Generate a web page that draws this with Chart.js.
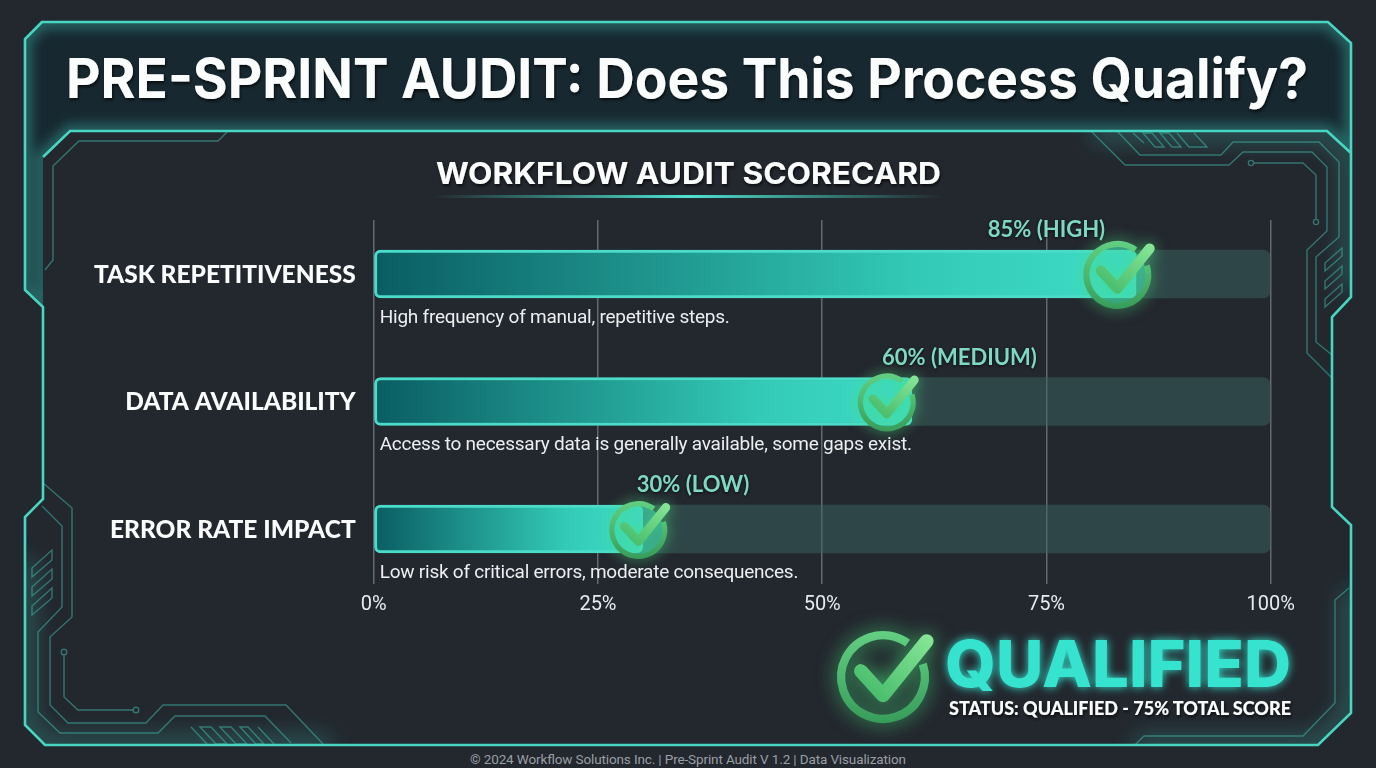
<!DOCTYPE html>
<html>
<head>
<meta charset="utf-8">
<title>Pre-Sprint Audit</title>
<script src="https://cdn.jsdelivr.net/npm/chart.js@4"></script>
<style>
html,body{margin:0;padding:0;background:#23272e;overflow:hidden}
#wrap{position:relative;width:1376px;height:768px}
#wrap svg,#wrap canvas{position:absolute;left:0;top:0}
</style>
</head>
<body>
<div id="wrap">
<svg width="1376" height="768" viewBox="0 0 1376 768" xmlns="http://www.w3.org/2000/svg">
  <defs>
    <filter id="b6" x="-20%" y="-20%" width="140%" height="140%"><feGaussianBlur stdDeviation="6"/></filter>
    <filter id="b12" x="-30%" y="-30%" width="160%" height="160%"><feGaussianBlur stdDeviation="12"/></filter>
    <filter id="qglow" x="-10%" y="-40%" width="120%" height="180%">
      <feGaussianBlur in="SourceGraphic" stdDeviation="5" result="g"/>
      <feMerge><feMergeNode in="g"/><feMergeNode in="SourceGraphic"/></feMerge>
    </filter>
    <filter id="tshadow" x="-5%" y="-20%" width="110%" height="150%">
      <feDropShadow dx="1" dy="2" stdDeviation="1.5" flood-color="#000" flood-opacity=".7"/>
    </filter>
    <clipPath id="headClip"><path d="M42,22 L25,39 L25,290 L43,307 L43,157 L70,131 L1327,131 L1351,153 L1351,43 L1328,22 Z"/></clipPath>
    <clipPath id="innerClip"><path d="M43,157 L70,131 L1327,131 L1351,153 L1351,297 L1332,317 L1332,507 L1351,525 L1351,713 L1318,745 L45,745 L25,725 L25,517 L43,499 Z"/></clipPath>
    <linearGradient id="under" x1="0" x2="1" y1="0" y2="0">
      <stop offset="0" stop-color="#45dcc8" stop-opacity="0"/>
      <stop offset=".5" stop-color="#4fe3cf"/>
      <stop offset="1" stop-color="#45dcc8" stop-opacity="0"/>
    </linearGradient>
  </defs>

  <rect width="1376" height="768" fill="#23272e"/>

  <!-- header plate -->
  <path d="M42,22 L25,39 L25,290 L43,307 L43,157 L70,131 L1327,131 L1351,153 L1351,43 L1328,22 Z" fill="#172830"/>
  <g clip-path="url(#headClip)">
    <path d="M42,22 L25,39 L25,290 L43,307 L43,157 L70,131 L1327,131 L1351,153 L1351,43 L1328,22 Z" fill="none" stroke="#3fc9b8" stroke-opacity=".38" stroke-width="14" filter="url(#b6)"/>
  </g>

  <!-- corner glow -->
  <g clip-path="url(#innerClip)" fill="none" stroke="#3fc9b8" stroke-opacity=".42" stroke-width="14" filter="url(#b12)">
    <path d="M25,560 L25,725 L45,745 L330,745"/>
    <path d="M1351,590 L1351,713 L1318,745 L1135,745"/>
    <path d="M1092,132 L1327,132 L1351,153 L1351,290"/>
  </g>

  <!-- thin circuit lines -->
  <g fill="none" stroke="#3fb5a8" stroke-opacity=".55" stroke-width="1.4">
    <path d="M227,132 L218,141 L79,141 L53,166 L53,260 L45,270"/>
    <path d="M1092,132 L1125,165 L1229,165 L1243,152 L1312,152 L1327,167 L1327,231 L1307,250 L1307,353 L1332,378"/>
    <path d="M1118,132 L1140,155 L1221,155 L1233,142 L1319,142 L1339,162 L1339,237 L1316,257 L1316,342 L1332,355"/>
    <path d="M1254,163 L1303,163 L1316,175 L1316,219"/>
    <circle cx="1251" cy="163" r="2.6"/>
    <circle cx="1316" cy="222" r="2.6"/>
    <path d="M1133,133 L1144,143"/>
    <path d="M1143,133 L1155,147 L1164,147 L1152,133 Z"/>
    <path d="M1160,133 L1172,147 L1181,147 L1169,133 Z"/>
    <path d="M1177,133 L1189,147 L1207,147 L1194,133"/>
    <path d="M1325,271 L1342,256 L1342,248 L1325,263 Z"/>
    <path d="M1325,289 L1342,274 L1342,266 L1325,281 Z"/>
    <path d="M1325,307 L1342,292 L1342,284 L1325,299 Z"/>

    <path d="M43,483 L72,508 L72,617 L50,637 L50,705 L68,723 L146,723 L163,705 L286,705 L323,744"/>
    <path d="M42,506 L62,526 L62,607 L38,632 L38,712 L60,733 L158,733 L175,716 L265,716 L291,743"/>
    <path d="M64,655 L64,697 L78,710 L133,710"/>
    <circle cx="64" cy="652" r="2.8"/>
    <circle cx="136" cy="710" r="2.8"/>
    <path d="M32,577 L52,560 L52,550 L32,568 Z"/>
    <path d="M32,596 L52,579 L52,569 L32,587 Z"/>
    <path d="M32,615 L52,598 L52,588 L32,606 Z"/>
    <path d="M191,727 L207,744"/>
    <path d="M200,727 L216,744 L227,744 L211,727 Z"/>
    <path d="M220,727 L236,744 L247,744 L231,727 Z"/>
    <path d="M240,727 L256,744 L264,744 L248,727 Z"/>
    <path d="M258,727 L274,744"/>

    <path d="M1135,745 L1144,736 L1303,736 L1335,703 L1335,600 L1349,588"/>
  </g>

  <!-- main frame -->
  <g fill="none" stroke="#48d6c3" stroke-width="2.6" stroke-linejoin="miter">
    <path d="M42,22 L25,39 L25,290 L43,307 L43,499 L25,517 L25,725 L45,745 L1318,745 L1351,713 L1351,525 L1332,507 L1332,317 L1351,297 L1351,43 L1328,22 Z"/>
    <path d="M43,157 L70,131 L1327,131 L1351,153"/>
  </g>

  <!-- headings -->
  <text x="66" y="98" textLength="1242" lengthAdjust="spacingAndGlyphs" font-family="Inter" font-weight="700" font-size="55" fill="#fbfcfc" filter="url(#tshadow)">PRE-SPRINT AUDIT: Does This Process Qualify?</text>
  <text x="436" y="184" textLength="505" lengthAdjust="spacingAndGlyphs" font-family="Inter" font-weight="700" font-size="30" fill="#fbfcfc" filter="url(#tshadow)">WORKFLOW AUDIT SCORECARD</text>
  <rect x="430" y="195" width="515" height="3" fill="url(#under)"/>

  <!-- status block -->
  <text x="945" y="687" textLength="346" lengthAdjust="spacingAndGlyphs" font-family="Inter" font-weight="800" font-size="65" fill="#35e3cf" filter="url(#qglow)">QUALIFIED</text>
  <text x="949" y="715" textLength="342" lengthAdjust="spacingAndGlyphs" font-family="Lato" font-weight="900" font-size="19" fill="#fbfcfc" filter="url(#tshadow)">STATUS: QUALIFIED - 75% TOTAL SCORE</text>

  <text x="688" y="764" text-anchor="middle" textLength="436" font-family="Roboto" font-size="13.5" fill="#9a9fa5">© 2024 Workflow Solutions Inc. | Pre-Sprint Audit V 1.2 | Data Visualization</text>
</svg>
<canvas id="chart" width="1376" height="768"></canvas>
</div>

<script>
const categories=['TASK REPETITIVENESS','DATA AVAILABILITY','ERROR RATE IMPACT'];
const scores=[85,60,30];
const fullScale=[100,100,100];
const levelLabels=['85% (HIGH)','60% (MEDIUM)','30% (LOW)'];
const descriptions=[
  'High frequency of manual, repetitive steps.',
  'Access to necessary data is generally available, some gaps exist.',
  'Low risk of critical errors, moderate consequences.'
];
const tickValues=[0,25,50,75,100];

// where the badge and the level text sit on each row, in axis percent
const badgeAt=[82.9,57.2,29.5];
const badgeSize=[34,29,29];
const levelAt=[75,65.3,35.6];

function drawCheck(ctx,x,y,r,inner){
  ctx.save();
  if(inner){
    ctx.fillStyle=inner;
    ctx.beginPath();
    ctx.arc(x,y,r*.85,0,Math.PI*2);
    ctx.fill();
  }
  ctx.shadowColor='rgba(70,225,125,.75)';
  ctx.shadowBlur=r*.45;
  ctx.lineJoin='round';

  let lw=r*.18;
  let ring=ctx.createLinearGradient(x,y-r,x,y+r);
  ring.addColorStop(0,'#63cf82');
  ring.addColorStop(1,'#379c5a');
  ctx.strokeStyle=ring;
  ctx.lineWidth=lw;
  ctx.lineCap='butt';
  ctx.beginPath();
  ctx.arc(x,y,r-lw/2,-18*Math.PI/180,306*Math.PI/180);
  ctx.stroke();

  let tick=ctx.createLinearGradient(x,y+r*.46,x+r,y-r*.87);
  tick.addColorStop(0,'#4cc06f');
  tick.addColorStop(1,'#86e596');
  ctx.strokeStyle=tick;
  ctx.lineWidth=r*.3;
  ctx.lineCap='round';
  ctx.beginPath();
  ctx.moveTo(x-r*.48,y-r*.13);
  ctx.lineTo(x,y+r*.4);
  ctx.lineTo(x+r*.95,y-r*.78);
  ctx.stroke();
  ctx.restore();
}

const auditNotes={
  id:'auditNotes',
  afterDatasetsDraw(chart){
    const ctx=chart.ctx;
    const xs=chart.scales.x;
    const ys=chart.scales.y;
    categories.forEach((c,i)=>{
      let cy=ys.getPixelForValue(i);

      ctx.save();
      ctx.textBaseline='middle';
      ctx.textAlign='left';
      ctx.font='19px Roboto';
      ctx.letterSpacing='-0.24px';
      ctx.fillStyle='#eceef0';
      ctx.fillText(descriptions[i],xs.getPixelForValue(0)+6,cy+44);
      ctx.letterSpacing='0px';

      ctx.textAlign='center';
      ctx.font='bold 22px Lato';
      ctx.fillStyle='#7fd9c0';
      ctx.shadowColor='rgba(0,0,0,.7)';
      ctx.shadowBlur=3;
      ctx.shadowOffsetY=1;
      ctx.fillText(levelLabels[i],xs.getPixelForValue(levelAt[i]),cy-44);
      ctx.restore();

      drawCheck(ctx,xs.getPixelForValue(badgeAt[i]),cy+1,badgeSize[i],'rgba(62,215,190,.6)');
    });
    // large status badge beside QUALIFIED
    drawCheck(ctx,883,677,46);
  }
};

new Chart(document.getElementById('chart'),{
  type:'bar',
  data:{
    datasets:[
      {
        data:scores.map((v,i)=>({x:v,y:i})),
        order:1,
        barThickness:48,
        borderWidth:3,
        borderColor:'#4adcc8',
        borderRadius:6,
        borderSkipped:false,
        backgroundColor(c){
          const chart=c.chart;
          if(!chart.chartArea||!c.parsed) return '#33cdb9';
          const xs=chart.scales.x;
          let g=chart.ctx.createLinearGradient(xs.getPixelForValue(0),0,xs.getPixelForValue(c.parsed.x),0);
          g.addColorStop(0,'#0a5d62');
          g.addColorStop(.72,'#33cbb8');
          g.addColorStop(1,'#3edcc6');
          return g;
        }
      },
      {
        data:fullScale.map((v,i)=>({x:v,y:i})),
        order:2,
        barThickness:48,
        borderWidth:0,
        borderRadius:8,
        borderSkipped:false,
        backgroundColor:'rgba(57,101,98,.5)'
      }
    ]
  },
  options:{
    indexAxis:'y',
    responsive:false,
    animation:false,
    events:[],
    layout:{padding:{left:0,right:105.3,top:220,bottom:154}},
    datasets:{bar:{grouped:false}},
    plugins:{legend:{display:false},tooltip:{enabled:false},title:{display:false}},
    scales:{
      x:{
        type:'linear',
        min:0,
        max:100,
        afterBuildTicks(s){s.ticks=tickValues.map(v=>({value:v}))},
        afterFit(s){s.height=30},
        grid:{color:'rgba(190,195,200,.42)',lineWidth:1.5,drawTicks:false},
        border:{display:false},
        ticks:{
          color:'#e8eaec',
          padding:9,
          maxRotation:0,
          autoSkip:false,
          font:{family:'Roboto',size:20},
          callback:v=>v+'%'
        }
      },
      y:{
        type:'linear',
        offset:false,
        reverse:true,
        min:-0.4235,
        max:2.431,
        afterBuildTicks(s){s.ticks=categories.map((c,i)=>({value:i}))},
        afterFit(s){s.width=373.7},
        grid:{display:false,drawTicks:false},
        border:{display:false},
        ticks:{
          color:'#fbfcfc',
          padding:18,
          labelOffset:1,
          autoSkip:false,
          font:{family:'Lato',size:24.5,weight:'900'},
          callback:v=>categories[v]
        }
      }
    }
  },
  plugins:[auditNotes]
});
</script>
</body>
</html>
